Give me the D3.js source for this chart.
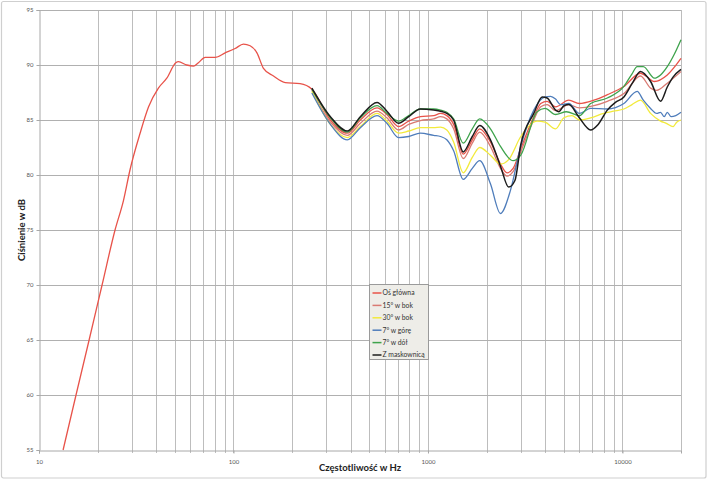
<!DOCTYPE html>
<html>
<head>
<meta charset="utf-8">
<script src="https://cdn.jsdelivr.net/npm/d3@7"></script>
<style>
  html, body { margin: 0; padding: 0; background: #fff; }
  svg { display: block; font-family: Lato, "Open Sans", sans-serif; }
</style>
</head>
<body>
<svg id="chart" width="708" height="482"></svg>
<script>
// ---------- DATA ----------
const yTicks = [55, 60, 65, 70, 75, 80, 85, 90, 95];
const xTickLabels = [10, 100, 1000, 10000];
const xGrid = [20,30,40,50,60,70,80,90,100,200,300,400,500,600,700,800,900,1000,
               2000,3000,4000,5000,6000,7000,8000,9000,10000,20000];

const seriesNames = ["Oś główna", "15° w bok", "30° w bok", "7° w górę", "7° w dół", "Z maskownicą"];
const seriesColors = ["#e8534a", "#d97a72", "#f2ea3c", "#4f7dbb", "#3ea34c", "#1c1c1c"];

// Oś główna (main axis) – full range
const fMain = [13.3,15.5,18.1,21.1,24.6,27.2,29.4,33.1,36.6,41.1,45.4,50.5,52.1,57.5,62.3,66,71.5,80.5,90.6,102,112.5,121.8,132,142.6,160.6,184.6,220,253,
               315,385,449,547,615,706,796,914,1070,1160,1250,1355,1518,1690,1845,2095,2360,2550,2740,3000,3500,3800,4100,4530,5300,6000,7130,8360,10170,12380,13200,14600,17000,20000];
const dbMain = [55,60,65,70,75,77.7,80.5,83.8,86.2,87.9,88.8,90.2,90.3,90.0,89.9,90.2,90.7,90.7,91.1,91.5,91.9,91.75,91.1,89.7,89.0,88.4,88.3,87.8,
               85.0,83.8,85.0,86.1,85.5,84.4,84.9,85.3,85.4,85.6,85.4,84.6,81.9,83.2,84.2,83.0,81.0,80.2,80.6,82.4,85.3,86.5,86.7,86.2,86.8,86.5,86.8,87.3,88.05,89.25,89.0,88.5,89.1,90.6];

// 15° w bok
const f15 = [253,315,385,449,547,615,706,796,914,1070,1160,1250,1355,1518,1690,1845,2095,2360,2550,2740,3000,3500,3800,4100,4530,5300,6000,7130,8360,10170,12380,13950,15000,17000,20000];
const db15 = [87.7,84.8,83.6,84.7,85.8,85.2,84.1,84.6,84.95,85.1,85.3,85.1,84.2,81.5,82.9,83.9,82.6,80.6,79.9,80.3,82.1,85.0,86.2,86.4,85.85,86.4,86.1,86.3,86.7,87.4,89.0,87.9,87.7,88.35,89.4];

// 30° w bok
const f30 = [253,315,385,449,547,615,706,796,914,1070,1160,1250,1355,1518,1690,1845,2095,2360,2600,3000,3640,4000,4530,5000,5500,6000,6860,8000,9000,10170,11200,12380,13950,15700,16800,18200,19000,20000];
const db30 = [87.6,84.6,83.4,84.4,85.6,84.9,83.8,84.0,84.3,84.3,84.35,84.1,83.0,80.2,81.6,82.5,81.8,81.0,81.4,83.5,84.9,84.8,84.2,85.2,85.4,85.0,85.2,85.6,85.8,86.0,86.4,86.8,85.6,84.9,84.7,84.4,84.8,85.0];

// 7° w górę
const fUp = [253,315,385,449,547,615,706,796,914,1070,1160,1250,1355,1518,1690,1845,2095,2360,2655,3000,3500,4000,4270,4530,4800,5300,6000,6860,8360,10170,11900,12800,13950,15000,15700,16400,17000,17800,18800,20000];
const dbUp = [87.45,84.6,83.2,84.3,85.4,84.7,83.4,83.5,83.8,83.6,83.5,83.2,82.2,79.6,80.6,81.3,79.2,76.5,78.6,82.6,85.9,87.1,87.15,86.9,86.4,86.5,85.6,86.05,86.0,86.5,87.6,86.8,86.05,85.6,85.7,85.3,85.7,85.3,85.4,85.7];

// 7° w dół
const fDown = [253,315,385,449,547,615,706,796,914,1070,1160,1250,1355,1518,1690,1845,2095,2360,2740,3000,3640,4000,4530,5150,6000,6860,8360,10170,11200,11900,12800,14600,15700,17000,18500,20000];
const dbDown = [87.8,85.2,83.9,85.2,86.3,85.6,84.9,85.4,86.0,86.0,85.9,85.7,85.1,82.9,84.2,85.1,84.2,82.6,81.3,81.8,85.75,86.06,85.5,85.75,85.4,86.5,87.0,88.05,89.2,89.85,89.85,88.8,89.1,89.85,91.0,92.3];

// Z maskownicą
const fGrill = [253,315,385,449,547,615,706,796,914,1070,1160,1250,1355,1518,1690,1845,2095,2360,2600,2800,3000,3500,3865,4100,4530,4710,5000,5300,6000,6860,7500,8360,9200,10170,11200,12380,13950,15700,17000,18200,20000];
const dbGrill = [87.9,85.3,84.0,85.3,86.6,85.8,84.7,85.3,86.0,85.9,85.8,85.6,85.0,82.1,83.5,84.5,83.2,80.8,78.9,79.5,82.75,85.6,87.1,87.0,85.9,85.75,86.3,86.4,85.2,84.1,84.6,85.9,86.6,87.1,88.3,89.4,88.5,86.7,88.0,88.9,89.6];

const seriesF = [fMain, f15, f30, fUp, fDown, fGrill];
const seriesDb = [dbMain, db15, db30, dbUp, dbDown, dbGrill];

// ---------- CHART ----------
const svg = d3.select("#chart");
const mLeft = 39, mRight = 681, mTop = 10, mBottom = 450;

const x = d3.scaleLog().domain([10, 20000]).range([mLeft, mRight]);
const y = d3.scaleLinear().domain([55, 95]).range([mBottom, mTop]);

// outer frame
svg.append("rect").attr("x", 1.5).attr("y", 1.5).attr("width", 704.5).attr("height", 476.5)
  .attr("rx", 2).attr("fill", "#fff").attr("stroke", "#cfcfcf").attr("stroke-width", 1.2);

// grid
const grid = svg.append("g");
grid.selectAll("line.v").data(xGrid).join("line")
  .attr("x1", d => Math.round(x(d)) + 0.5).attr("x2", d => Math.round(x(d)) + 0.5)
  .attr("y1", mTop).attr("y2", mBottom + 3)
  .attr("stroke", "#bdbdbd").attr("stroke-width", 1);
grid.selectAll("line.h").data(yTicks.filter(d => d > 55)).join("line")
  .attr("x1", mLeft).attr("x2", mRight)
  .attr("y1", d => Math.round(y(d)) + 0.5).attr("y2", d => Math.round(y(d)) + 0.5)
  .attr("stroke", "#b0b0b0").attr("stroke-width", 1);

// axes
const yAxis = d3.axisLeft(y).tickValues(yTicks).tickSize(3).tickPadding(3).tickFormat(d3.format("d"));
const gy = svg.append("g").attr("transform", `translate(${mLeft + 0.5},0)`).call(yAxis);
gy.select(".domain").attr("stroke", "#a8a8a8");
gy.selectAll(".tick line").attr("stroke", "#a8a8a8");
gy.selectAll("text").attr("font-size", 6).attr("fill", "#555").attr("font-family", "Lato, sans-serif");

const xAxis = d3.axisBottom(x).tickValues(xTickLabels).tickSize(3).tickPadding(6).tickFormat(d3.format("d"));
const gx = svg.append("g").attr("transform", `translate(0,${mBottom + 0.5})`).call(xAxis);
gx.select(".domain").attr("stroke", "#a8a8a8");
gx.selectAll(".tick line").attr("stroke", "#a8a8a8");
gx.selectAll("text").attr("font-size", 6).attr("fill", "#555").attr("font-family", "Lato, sans-serif");

// titles
svg.append("text").attr("x", (mLeft + mRight) / 2).attr("y", 471)
  .attr("text-anchor", "middle").attr("font-size", 9.5).attr("font-weight", "bold").attr("fill", "#222")
  .text("Częstotliwość w Hz");
svg.append("text").attr("transform", `translate(25,${(mTop + mBottom) / 2}) rotate(-90)`)
  .attr("text-anchor", "middle").attr("font-size", 9.5).attr("font-weight", "bold").attr("fill", "#222")
  .text("Ciśnienie w dB");

// lines
const line = d3.line().x(d => x(d[0])).y(d => y(d[1])).curve(d3.curveMonotoneX);
const plot = svg.append("g");
seriesNames.forEach((name, i) => {
  const pts = seriesF[i].map((f, j) => [f, seriesDb[i][j]]);
  plot.append("path").datum(pts)
    .attr("d", line)
    .attr("fill", "none")
    .attr("stroke", seriesColors[i])
    .attr("stroke-width", i === 5 ? 1.5 : 1.3)
    .attr("stroke-linejoin", "round");
});

// legend
const lg = svg.append("g");
lg.append("rect").attr("x", 369.5).attr("y", 284.5).attr("width", 59).attr("height", 75)
  .attr("fill", "#eeede8").attr("stroke", "#9a9a9a").attr("stroke-width", 1);
seriesNames.forEach((name, i) => {
  const cy = 293 + i * 12.4;
  lg.append("line").attr("x1", 372.5).attr("x2", 381.5).attr("y1", cy).attr("y2", cy)
    .attr("stroke", seriesColors[i]).attr("stroke-width", 1.5);
  lg.append("text").attr("x", 382.5).attr("y", cy + 2.4)
    .attr("font-size", 6.8).attr("fill", "#333").text(name);
});
</script>
</body>
</html>
